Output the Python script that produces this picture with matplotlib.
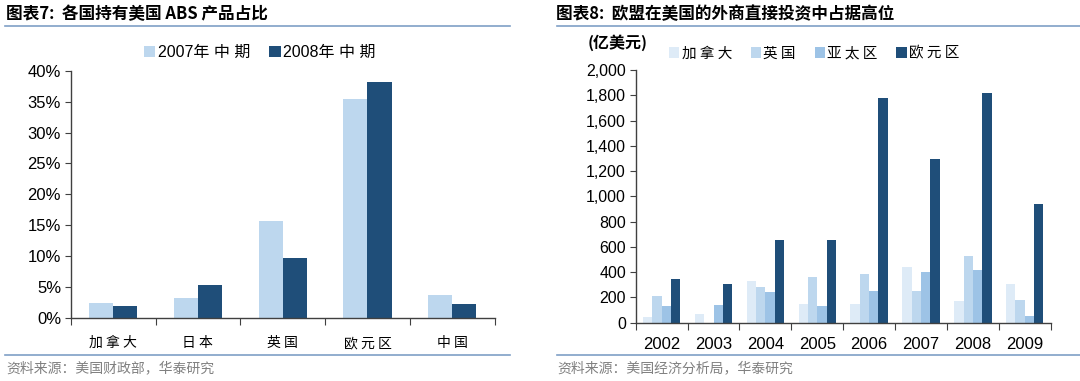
import matplotlib
matplotlib.use("Agg")
import matplotlib.pyplot as plt
import numpy as np
from matplotlib.lines import Line2D

plt.rcParams['font.family'] = ['Liberation Sans', 'Noto Sans CJK SC', 'DejaVu Sans']

# chart 7 data
abs_countries = ['加拿大', '日本', '英国', '欧元区', '中国']
abs_2007 = [2.4, 3.3, 15.7, 35.4, 3.7]
abs_2008 = [2.0, 5.4, 9.7, 38.1, 2.3]
abs_labels = ['2007年 中 期', '2008年 中 期']

# chart 8 data (亿美元)
fdi_years = ['2002', '2003', '2004', '2005', '2006', '2007', '2008', '2009']
fdi_canada = [45, 69, 332, 148, 148, 438, 169, 304]
fdi_uk = [211, -15, 283, 362, 385, 253, 525, 182]
fdi_apac = [130, 138, 245, 130, 251, 399, 420, 53]
fdi_euro = [343, 304, 654, 652, 1778, 1293, 1818, 942]
fdi_labels = ['加拿大', '英国', '亚太区', '欧元区']

light = '#BDD7EE'
dark = '#1F4E79'
cjk = ['Noto Sans CJK SC', 'DejaVu Sans']
linec = '#7F9FC6'

def spaced(s):
    # the original uses a letter-spaced song font
    return ' '.join(s)

fig = plt.figure(figsize=(10.8, 3.81), dpi=100)

def setup_axis(ax, n):
    for s in ['top', 'right']:
        ax.spines[s].set_visible(False)
    for s in ['left', 'bottom']:
        ax.spines[s].set_color('#404040')
        ax.spines[s].set_linewidth(1.0)
    ax.set_xlim(-0.5, n - 0.5)
    ax.set_xticks(np.arange(n + 1) - 0.5)
    ax.set_xticklabels([])
    ax.tick_params(axis='x', which='major', length=5, direction='out', color='#404040')
    ax.set_xticks(np.arange(n), minor=True)
    ax.tick_params(axis='x', which='minor', length=0)
    ax.tick_params(axis='y', length=4, direction='out', color='#404040', pad=3)

# ---- left chart
ax1 = fig.add_axes([0.0655, 0.1654, 0.3925, 0.649])
x = np.arange(len(abs_countries))
w = 0.285
ax1.bar(x - w / 2, abs_2007, w, color=light, label=abs_labels[0])
ax1.bar(x + w / 2, abs_2008, w, color=dark, label=abs_labels[1])
setup_axis(ax1, len(abs_countries))
ax1.set_ylim(0, 40)
ax1.set_yticks(np.arange(0, 41, 5))
ax1.set_yticklabels([f'{v}%' for v in range(0, 41, 5)], fontsize=12)
ax1.set_xticklabels([spaced(c) for c in abs_countries], minor=True, family=cjk, fontsize=10)
ax1.tick_params(axis='x', which='minor', pad=13)
ax1.legend(loc='lower center', bbox_to_anchor=(0.446, 0.985), ncol=2, frameon=False,
           handlelength=0.7, handleheight=0.7, handletextpad=0.15, columnspacing=1.2,
           prop={'family': ['Liberation Sans', 'Noto Sans CJK SC'], 'size': 11.5})

# ---- right chart
ax2 = fig.add_axes([0.5886, 0.153, 0.3843, 0.6633])
x = np.arange(len(fdi_years))
w = 0.18
series = [fdi_canada, fdi_uk, fdi_apac, fdi_euro]
colors = ['#DEEBF7', light, '#9DC3E6', dark]
for i, (vals, c, lab) in enumerate(zip(series, colors, fdi_labels)):
    ax2.bar(x + (i - 1.5) * w, vals, w, color=c, label=spaced(lab))
setup_axis(ax2, len(fdi_years))
ax2.set_ylim(0, 2000)
ax2.set_yticks(np.arange(0, 2001, 200))
ax2.set_yticklabels([f'{v:,}' for v in range(0, 2001, 200)], fontsize=11.5)
ax2.set_xticklabels(fdi_years, minor=True, fontsize=12)
ax2.tick_params(axis='x', which='minor', pad=10)
ax2.legend(loc='lower center', bbox_to_anchor=(0.43, 0.985), ncol=4, frameon=False,
           handlelength=0.7, handleheight=0.7, handletextpad=0.15, columnspacing=1.3,
           prop={'family': cjk, 'size': 10.5})

# titles, rules, sources
fig.text(0.006, 0.962, '图表7:  各国持有美国 ABS 产品占比', fontsize=12, fontweight='bold',
         family=cjk, va='center')
fig.text(0.515, 0.962, '图表8:  欧盟在美国的外商直接投资中占据高位', fontsize=12,
         fontweight='bold', family=cjk, va='center')
fig.text(0.544, 0.888, '(亿美元)', fontsize=11.5, fontweight='bold', family=cjk, va='center')
fig.add_artist(Line2D([0.005, 0.472], [0.932, 0.932], color=linec, lw=1.2))
fig.add_artist(Line2D([0.516, 1.0], [0.932, 0.932], color=linec, lw=1.2))
fig.add_artist(Line2D([0.005, 0.472], [0.068, 0.068], color=linec, lw=1.2))
fig.add_artist(Line2D([0.516, 1.0], [0.068, 0.068], color=linec, lw=1.2))
fig.text(0.006, 0.034, '资料来源：美国财政部，华泰研究', fontsize=10, color='#808080',
         family=cjk, va='center')
fig.text(0.516, 0.034, '资料来源：美国经济分析局，华泰研究', fontsize=10, color='#808080',
         family=cjk, va='center')

fig.savefig('out.png', dpi=100)
